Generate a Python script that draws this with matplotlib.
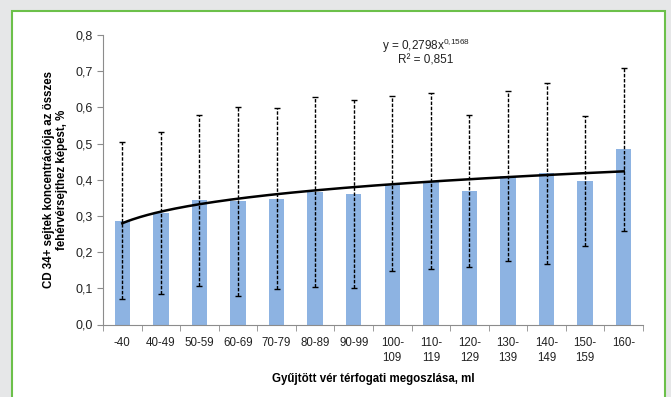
import numpy as np
import matplotlib
matplotlib.use('Agg')
import matplotlib.pyplot as plt
from matplotlib.patches import Rectangle

plt.rcParams['font.family'] = ['Liberation Sans', 'DejaVu Sans']
plt.rcParams['mathtext.fontset'] = 'custom'
plt.rcParams['mathtext.rm'] = 'Liberation Sans'

# data
categories = ['-40', '40-49', '50-59', '60-69', '70-79', '80-89', '90-99',
              '100-\n109', '110-\n119', '120-\n129', '130-\n139', '140-\n149',
              '150-\n159', '160-']
means = [0.287, 0.308, 0.343, 0.341, 0.348, 0.367, 0.361,
         0.389, 0.397, 0.369, 0.410, 0.418, 0.396, 0.484]
sds = [0.217, 0.225, 0.236, 0.261, 0.249, 0.263, 0.259,
       0.242, 0.244, 0.210, 0.235, 0.250, 0.179, 0.225]
# power trendline as printed on the chart
fit_a = 0.2798
fit_b = 0.1568
fit_r2 = 0.851

BAR = '#8db3e2'
BG = '#e6e7e8'
GREEN = '#6cc04a'
AXC = '#8c8c8c'

fig = plt.figure(figsize=(6.71, 3.97), dpi=100)
fig.patch.set_facecolor(BG)
# green framed white panel
fig.patches.append(Rectangle((12/671, -0.05), (665-12)/671, (397-11)/397 + 0.05,
                             transform=fig.transFigure, facecolor='white',
                             edgecolor=GREEN, lw=1.5, zorder=-10))

ax = fig.add_axes([103/671, 1 - 324.5/397, 540/671, 289.5/397])
ax.set_facecolor('none')

x = np.arange(len(categories))
ax.bar(x, means, width=0.4, color=BAR, zorder=2)
eb = ax.errorbar(x, means, yerr=sds, fmt='none', ecolor='black', elinewidth=1.0,
                 capsize=2, capthick=1.0, zorder=3)
eb[2][0].set_linestyle((0, (2.5, 1.2)))

xs = np.linspace(1, len(categories), 200)
ax.plot(xs - 1, fit_a * xs ** fit_b, color='black', lw=1.8, zorder=4)

ax.set_xlim(-0.5, len(categories) - 0.5)
ax.set_ylim(0, 0.8)
ax.set_yticks(np.arange(0, 0.81, 0.1))
ax.set_yticklabels([f'{v:.1f}'.replace('.', ',') for v in np.arange(0, 0.81, 0.1)])
ax.set_xticks(x)
ax.set_xticklabels(categories, fontsize=8.3, color='#222222', linespacing=1.3,
                   va='top')
ax.tick_params(axis='x', length=0, pad=9)
ax.set_xticks(np.arange(-0.5, len(categories), 1), minor=True)
ax.tick_params(axis='x', which='minor', length=4, color=AXC, direction='out')
ax.tick_params(axis='y', length=4, color=AXC, labelsize=9, labelcolor='#222222')
for s in ['top', 'right']:
    ax.spines[s].set_visible(False)
for s in ['left', 'bottom']:
    ax.spines[s].set_color(AXC)

ax.set_ylabel('CD 34+ sejtek koncentrációja az összes\nfehérvérsejthez képest, %',
              fontsize=8.3, fontweight='bold', labelpad=5, linespacing=1.15)
ax.set_xlabel('Gyűjtött vér térfogati megoszlása, ml', fontsize=8.3,
              fontweight='bold', labelpad=7)

sup = f'{fit_b}'.replace('.', '{,}')
ax.text(7.87, 0.769, f'y = {fit_a}'.replace('.', ',') + r'x$^{\mathregular{' + sup + '}}$',
        ha='center', va='center', fontsize=8.5, color='#222222')
ax.text(7.87, 0.729, f'R² = {fit_r2}'.replace('.', ','), ha='center',
        va='center', fontsize=8.5, color='#222222')

fig.savefig('out.png', dpi=100, facecolor=BG)
